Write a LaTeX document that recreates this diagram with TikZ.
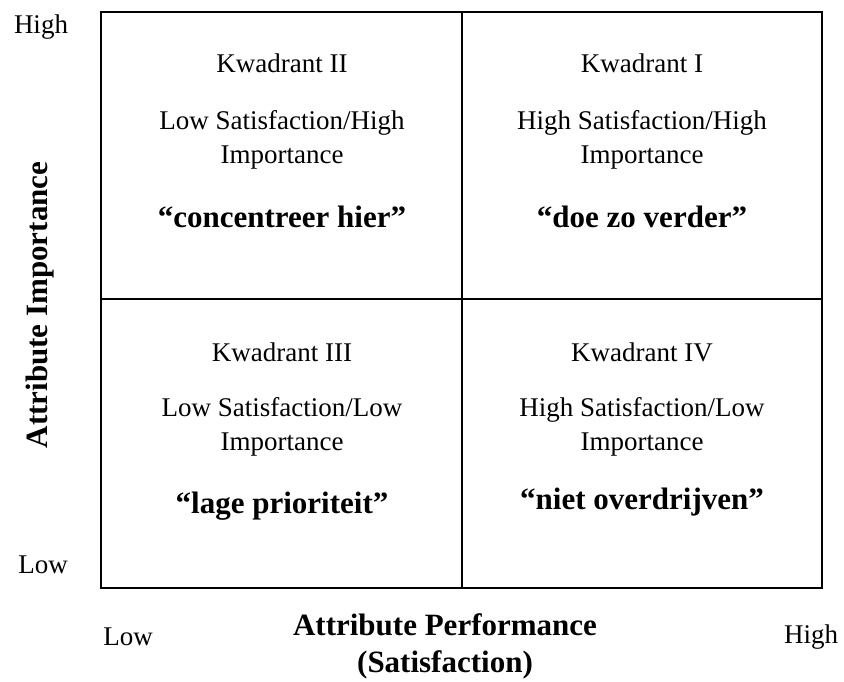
\documentclass[tikz,border=0pt]{standalone}
\usepackage{fontspec}
\setmainfont{Liberation Serif}
\usetikzlibrary{calc}

\begin{document}
\begin{tikzpicture}  [x=1pt, y=-1pt, txt/.style={font=\fontsize{27}{34}\selectfont, align=center}, motto/.style={font=\fontsize{31}{36}\selectfont\bfseries}, axlab/.style={font=\fontsize{31}{37}\selectfont\bfseries, align=center}]
\useasboundingbox (0,0) rectangle (844,682);
\coordinate (nw) at (101,12);
\coordinate (se) at (822,588);
\draw[black, line width=1.3pt] (nw) rectangle (se);
\draw[black, line width=1.3pt] (462,12) -- (462,588);
\draw[black, line width=1.3pt] (101,299) -- (822,299);

\node[txt] (kw2) at (282,63) {Kwadrant II};
\node[txt] (sat2) at (282,140) {Low Satisfaction/High\\Importance};
\node[motto] (m2) at (282,217) {``concentreer hier''};
\node[txt] (kw1) at (642,63) {Kwadrant I};
\node[txt] (sat1) at (642,140) {High Satisfaction/High\\Importance};
\node[motto] (m1) at (642,217) {``doe zo verder''};
\node[txt] (kw3) at (282,352) {Kwadrant III};
\node[txt] (sat3) at (282,427) {Low Satisfaction/Low\\Importance};
\node[motto] (m3) at (282,506) {``lage prioriteit''};
\node[txt] (kw4) at (642,352) {Kwadrant IV};
\node[txt] (sat4) at (642,427) {High Satisfaction/Low\\Importance};
\node[motto] (m4) at (642,502) {``niet overdrijven''};

\node[txt] (yhigh) at (41,27) {High};
\node[txt] (ylow) at (43,565) {Low};
\node[txt] (xlow) at (128,637) {Low};
\node[txt] (xhigh) at (811,637) {High};
\node[axlab] (xlab) at (445,646) {Attribute Performance\\(Satisfaction)};
\node[axlab, rotate=90] (ylab) at (40,305) {Attribute Importance};

\end{tikzpicture}
\end{document}
